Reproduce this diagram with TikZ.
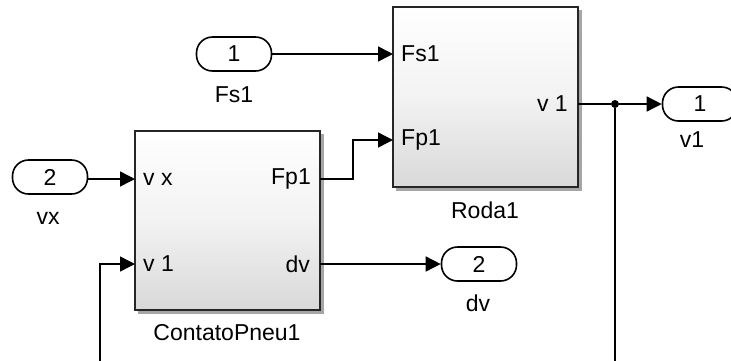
\documentclass[tikz,border=0pt]{standalone}
\usepackage{fontspec}
\setmainfont{Liberation Sans}
\usetikzlibrary{arrows.meta}
\tikzset{
  wire/.style={draw=black, line width=1.5pt},
  sig/.style={wire, -{Triangle[length=15pt,width=15pt]}},
  blockbox/.style={draw=black!85, line width=1.6pt, top color=white, bottom color=black!15, middle color=white!95!black},
  blockshadow/.style={fill=black!35, draw=none},
  pill/.style={draw=black, line width=1.6pt, fill=white, rounded corners=16pt, minimum width=75pt, minimum height=34pt, inner sep=0pt, font=\fontsize{23}{26}\selectfont},
  lbl/.style={font=\fontsize{23}{26}\selectfont, inner sep=0pt},
  dot/.style={circle, fill=black, inner sep=0pt, minimum size=8pt},
}
\begin{document}
\begin{tikzpicture}[x=1pt,y=-1pt]
\useasboundingbox (0,0) rectangle (731,360);
\clip (0,0) rectangle (731,360);
% shadows
\fill[blockshadow] (396,10) rectangle (582,191);
\fill[blockshadow] (138,134) rectangle (324,314);
% blocks
\path[blockbox] (393,7) rectangle (578,187);
\path[blockbox] (135,131) rectangle (320,310);
\coordinate (rodaFs) at (393,54);
\coordinate (rodaFp) at (393,140);
\coordinate (rodaV) at (578,104);
\coordinate (cpVx) at (135,179);
\coordinate (cpV1) at (135,264);
\coordinate (cpFp) at (320,179);
\coordinate (cpDv) at (320,264);
% port labels
\node[lbl, anchor=west] (tFs) at (401,54) {Fs1};
\node[lbl, anchor=west] (tFp) at (401,140) {Fp1};
\node[lbl, anchor=east] (tV) at (568,104) {v 1};
\node[lbl, anchor=west] (tVx) at (143,179) {v x};
\node[lbl, anchor=west] (tV1) at (143,264) {v 1};
\node[lbl, anchor=east] (tFpo) at (311,179) {Fp1};
\node[lbl, anchor=east] (tDv) at (310,264) {dv};
% block names
\node[lbl] (nRoda) at (485,210) {Roda1};
\node[lbl] (nCP) at (227,333) {ContatoPneu1};
% in/out ports
\node[pill] (inFs) at (234,54) {1};
\node[lbl] (lFs) at (234,95) {Fs1};
\node[pill] (inVx) at (50,177) {2};
\node[lbl] (lVx) at (48,218) {vx};
\node[pill] (outV) at (700,104) {1};
\node[lbl] (lV) at (692,140) {v1};
\node[pill] (outDv) at (479,264) {2};
\node[lbl] (lDv) at (478,303) {dv};
% connectors
\draw[sig] (inFs.east) -- (rodaFs);
\draw[sig] (inVx.east |- cpVx) -- (cpVx);
\draw[sig] (cpFp) -- (353,179) -- (353,140) -- (rodaFp);
\draw[sig] (cpDv) -- (outDv.west);
\node[dot] (j) at (615,104) {};
\draw[wire] (rodaV) -- (j);
\draw[sig] (j) -- (outV.west);
\coordinate (bR) at (615,362);
\coordinate (bL) at (100,362);
\draw[wire] (j) -- (bR);
\draw[sig] (bL) -- (100,264) -- (cpV1);
\end{tikzpicture}
\end{document}
